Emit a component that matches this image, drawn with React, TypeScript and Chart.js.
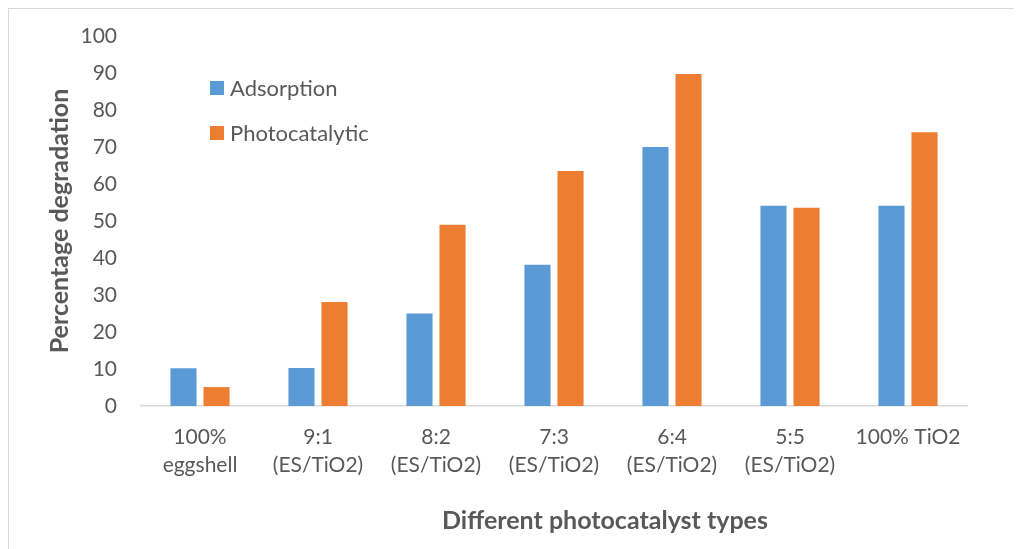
import React, { useEffect, useRef } from "react";
import { Chart, registerables } from "chart.js";

Chart.register(...registerables);

const categories: (string | string[])[] = [
  ["100%", "eggshell"],
  ["9:1", "(ES/TiO2)"],
  ["8:2", "(ES/TiO2)"],
  ["7:3", "(ES/TiO2)"],
  ["6:4", "(ES/TiO2)"],
  ["5:5", "(ES/TiO2)"],
  "100% TiO2",
];
const adsorption = [10.2, 10.3, 25.0, 38.2, 70.0, 54.1, 54.1];
const photocatalytic = [5.1, 28.1, 49.0, 63.5, 89.7, 53.6, 74.0];
const seriesNames = ["Adsorption", "Photocatalytic"];
const colors = ["#5B9BD5", "#ED7D31"];
const yTitle = "Percentage degradation";
const xTitle = "Different photocatalyst types";

const FONT = "Lato, 'Open Sans', sans-serif";
const TEXT = "#595959";

const overlayPlugin = {
  id: "overlay",
  afterDraw(chart: any) {
    const { ctx, chartArea } = chart;
    ctx.save();
    // legend
    const lx = chartArea.left + 69;
    const rows = [chartArea.top + 52, chartArea.top + 97];
    chart.data.datasets.forEach((ds: any, i: number) => {
      const cy = rows[i];
      ctx.fillStyle = ds.backgroundColor;
      ctx.fillRect(lx, cy - 7, 14, 14);
      ctx.fillStyle = TEXT;
      ctx.font = `22px ${FONT}`;
      ctx.textBaseline = "middle";
      ctx.textAlign = "left";
      ctx.fillText(ds.label, lx + 20, cy + 1);
    });
    // y title
    ctx.font = `bold 25px ${FONT}`;
    ctx.fillStyle = TEXT;
    ctx.translate(chartArea.left - 81, (chartArea.top + chartArea.bottom) / 2);
    ctx.rotate(-Math.PI / 2);
    ctx.textAlign = "center";
    ctx.textBaseline = "middle";
    ctx.fillText(yTitle, 0, 0);
    ctx.restore();
    ctx.save();
    ctx.font = `bold 25px ${FONT}`;
    ctx.fillStyle = TEXT;
    ctx.textAlign = "center";
    ctx.textBaseline = "middle";
    ctx.fillText(xTitle, chartArea.left + 464, chartArea.bottom + 115);
    ctx.restore();
  },
};

export default function App() {
  const ref = useRef<HTMLCanvasElement>(null);
  useEffect(() => {
    document.body.style.overflow = "hidden";
    document.documentElement.style.overflow = "hidden";
    const chart = new Chart(ref.current!, {
      type: "bar",
      data: {
        labels: categories,
        datasets: [
          {
            label: seriesNames[0],
            data: adsorption,
            backgroundColor: colors[0],
            categoryPercentage: 0.56,
            barPercentage: 0.79,
          },
          {
            label: seriesNames[1],
            data: photocatalytic,
            backgroundColor: colors[1],
            categoryPercentage: 0.56,
            barPercentage: 0.79,
          },
        ],
      },
      options: {
        responsive: false,
        animation: false,
        layout: { padding: { left: 0, right: 55, top: 27, bottom: 0 } },
        plugins: { legend: { display: false }, tooltip: { enabled: false } },
        scales: {
          x: {
            grid: { display: false, drawTicks: false },
            border: { display: true, color: "#D9D9D9", width: 1.5 },
            ticks: {
              color: TEXT,
              font: { family: FONT, size: 21, lineHeight: 1.3 },
              padding: 18,
              maxRotation: 0,
              autoSkip: false,
            },
            afterFit: (s: any) => {
              s.height = 143;
            },
          },
          y: {
            min: 0,
            max: 100,
            grid: { display: false, drawTicks: true, tickLength: 24 },
            border: { display: false },
            ticks: {
              stepSize: 10,
              color: TEXT,
              font: { family: FONT, size: 21 },
              padding: 0,
            },
            afterFit: (s: any) => {
              s.width = 132;
            },
          },
        },
      },
      plugins: [overlayPlugin],
    });
    return () => chart.destroy();
  }, []);
  return (
    <div
      style={{
        width: 1013,
        height: 540,
        borderTop: "1px solid #D9D9D9",
        borderLeft: "1px solid #D9D9D9",
        background: "#fff",
      }}
    >
      <canvas ref={ref} width={1013} height={540} style={{ display: "block" }} />
    </div>
  );
}
